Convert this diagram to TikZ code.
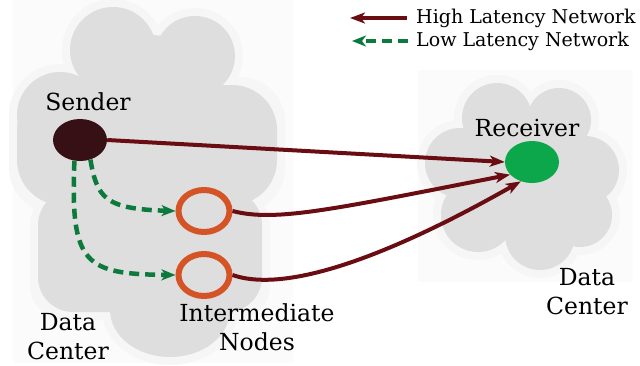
\documentclass[tikz,border=0pt]{standalone}
\usepackage{fontspec}
\setmainfont{DejaVu Serif}
\usetikzlibrary{arrows.meta,shapes.geometric}
\definecolor{cloudgray}{HTML}{DEDEDE}
\definecolor{halo}{HTML}{F6F6F6}
\definecolor{faint}{HTML}{FBFBFB}
\definecolor{hired}{HTML}{6A0D12}
\definecolor{logreen}{HTML}{0B7A3C}
\definecolor{ringor}{HTML}{D55427}
\definecolor{senderc}{HTML}{361014}
\definecolor{recvc}{HTML}{0CA74A}
\tikzset{
  lbl/.style={font=\fontsize{23.5}{29}\selectfont, align=center, inner sep=0pt},
  leg/.style={font=\fontsize{19}{22}\selectfont, anchor=west, inner sep=0pt},
  hilat/.style={draw=hired, line width=4pt, -{Stealth[length=15pt,width=11pt,inset=4pt]}},
  lolat/.style={draw=logreen, line width=4.5pt, dash pattern=on 10pt off 6pt, -{Stealth[length=14pt,width=11pt,inset=4pt]}},
  ring/.style={ellipse, draw=ringor, line width=6pt, minimum width=51pt, minimum height=42pt, inner sep=0pt},
  dot/.style={ellipse, minimum width=54pt, minimum height=42pt, inner sep=0pt},
}
\newcommand\leftcloudshape[2]{%
  \fill[#2] (113,50) circle ({43+#1});
  \fill[#2] (195,56) circle ({40+#1});
  \fill[#2] (60,115) circle ({43+#1});
  \fill[#2] (150,100) circle ({65+#1});
  \fill[#2] (232,140) circle ({43+#1});
  \fill[#2] (170,310) ellipse [x radius={60+#1}, y radius={47+#1}];
  \fill[#2, rounded corners=45pt] ({17-#1},{85-#1}) rectangle ({277+#1},{205+#1});
  \fill[#2, rounded corners=35pt] ({38-#1},190) rectangle ({262+#1},{312+#1});
}
\newcommand\rightcloudshape[2]{%
  \fill[#2] (497,118) circle ({35+#1});
  \fill[#2] (559,120) circle ({32+#1});
  \fill[#2] (460,163) circle ({35+#1});
  \fill[#2] (585,170) circle ({34+#1});
  \fill[#2] (478,215) circle ({37+#1});
  \fill[#2] (540,235) circle ({35+#1});
  \fill[#2] (580,215) circle ({32+#1});
  \fill[#2] (535,175) circle ({55+#1});
}
\begin{document}
\begin{tikzpicture}[x=1pt,y=-1pt]
\useasboundingbox (0,0) rectangle (640,365);
% faint backgrounds
\fill[faint] (13,0) rectangle (293,363);
\fill[faint] (418,70) rectangle (633,282);
% clouds
\leftcloudshape{8}{halo}
\leftcloudshape{0}{cloudgray}
\rightcloudshape{8}{halo}
\rightcloudshape{0}{cloudgray}
% nodes
\node[dot, fill=senderc] (s) at (80,140) {};
\node[dot, fill=recvc] (r) at (532,162) {};
\node[ring] (i1) at (204,211) {};
\node[ring] (i2) at (204,275) {};
% labels
\node[lbl] (ls) at (88,102) {Sender};
\node[lbl] (lr) at (527,128) {Receiver};
\node[lbl] (ldc1) at (68,337) {Data\\Center};
\node[lbl] (ldc2) at (587,292) {Data\\Center};
\node[lbl] (lin) at (257,327) {Intermediate\\Nodes};
% connectors
\draw[hilat] (s.east) -- (r.west);
\draw[hilat] (i1.east) .. controls (275,222) and (330,210) .. (r.210);
\draw[hilat] (i2.east) .. controls (290,295) and (400,250) .. (r.240);
\draw[lolat] (s.-62) .. controls (97,198) and (105,209) .. (i1.west);
\draw[lolat] (s.-105) .. controls (70,265) and (85,274) .. (i2.west);
% legend
\coordinate (h1) at (407,18);
\coordinate (h2) at (350,18);
\coordinate (g1) at (408,41);
\coordinate (g2) at (352,41);
\draw[hilat] (h1) -- (h2);
\draw[lolat] (g1) -- (g2);
\node[leg] (th) at (416,18) {High Latency Network};
\node[leg] (tl) at (416,41) {Low Latency Network};
\end{tikzpicture}
\end{document}
